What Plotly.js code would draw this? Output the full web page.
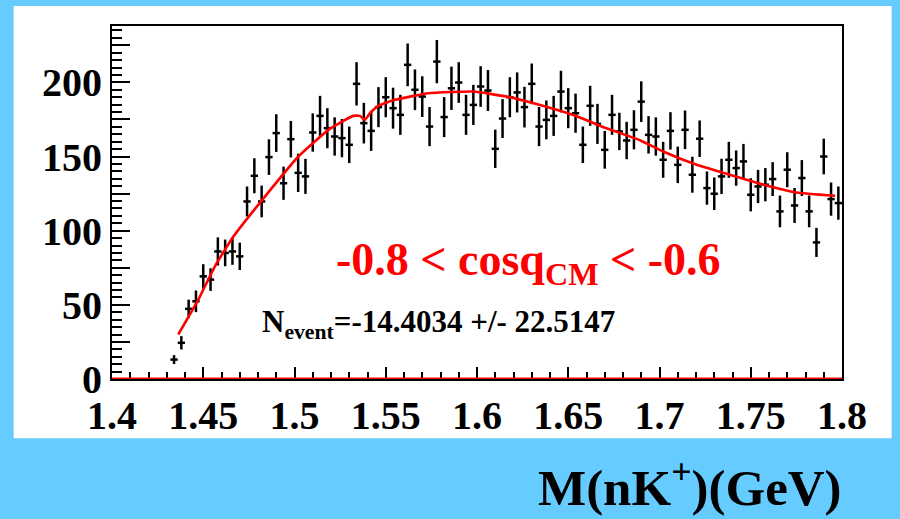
<!DOCTYPE html>
<html>
<head>
<meta charset="utf-8">
<script src="https://cdn.plot.ly/plotly-3.0.1.min.js"></script>
<style>html,body{margin:0;padding:0;background:#66ccff;}#chart{width:900px;height:519px;}</style>
</head>
<body>
<div id="chart"></div>
<script>
// Bin centres (GeV) of the data histogram
const massBins = [1.434,1.438,1.442,1.446,1.450,1.454,1.458,1.462,1.466,1.470,
  1.474,1.478,1.482,1.486,1.490,1.494,1.498,1.502,1.506,1.510,
  1.514,1.518,1.522,1.526,1.530,1.534,1.538,1.542,1.546,1.550,
  1.554,1.558,1.562,1.566,1.570,1.574,1.578,1.582,1.586,1.590,
  1.594,1.598,1.602,1.606,1.610,1.614,1.618,1.622,1.626,1.630,
  1.634,1.638,1.642,1.646,1.650,1.654,1.658,1.662,1.666,1.670,
  1.674,1.678,1.682,1.686,1.690,1.694,1.698,1.702,1.706,1.710,
  1.714,1.718,1.722,1.726,1.730,1.734,1.738,1.742,1.746,1.750,
  1.754,1.758,1.762,1.766,1.770,1.774,1.778,1.782,1.786,1.790,
  1.794,1.798];
// Event counts per bin
const counts = [13.1,24.4,47.3,52.4,69.2,67,86,85,86,82.7,
  119.7,137,119.7,149.6,165.8,132,161.7,139,136.6,166.2,
  177.4,169.1,163.5,162.4,157.9,199,172.5,167.3,183.3,190,
  182.6,178.1,211.8,195,190.4,170.2,214,176.6,196,199.9,
  178.1,184.8,197.2,194.5,155.2,175.6,190,193.2,183.3,199,
  170.2,174.7,177.4,193.8,182.6,179.2,157.9,184.2,172,154.5,
  178.1,166.9,160.8,168,187,164.6,163.5,147.8,167.3,144.4,
  168,137.7,162,128.7,124.9,136.6,147.8,142.2,146.7,124.2,
  129.8,131,134.8,113,141.1,117,135.5,113,92.1,150,
  121.3,118.6];
// Statistical errors per bin
const countErrors = [3,4.5,6.2,7.3,8.2,7.6,9.5,9,9,9.2,
  10.1,11.8,10.7,12,12.7,11.2,12.3,12.9,11.8,12.9,
  13.5,13.5,12.9,12.9,12.3,14.6,13.7,13.5,13.5,13.5,
  13.8,13.5,14.4,13.7,13.7,13.2,14.6,13.5,14.6,13.7,
  13.5,13.5,13.7,13.8,12.9,13.1,13.5,13.5,13.7,13.7,
  13.2,13.1,13.5,14,13.5,13.2,12.3,13.5,13.5,12.7,
  13.5,12.6,12.6,13.2,13.7,12.6,12.9,12.1,12.6,12.3,
  13,12.1,12.3,11.2,11,11.9,12.1,11.9,11.8,11.2,
  11.2,11.2,11.4,10.7,11.8,11.8,12.1,10.7,9.8,12,
  11.2,11.2];
const halfBinWidth = 0.002;
// Fit curve
const fitMass = [1.4363,1.4473,1.4564,1.4665,1.4838,1.5021,1.5186,1.5322,1.5359,1.5386,
  1.5414,1.5459,1.5551,1.5733,1.598,1.6163,1.6345,1.6528,1.671,1.6893,
  1.702,1.7204,1.7386,1.757,1.775,1.7962];
const fitValues = [30,53.5,76,96,123,150,168,177.4,177.4,174.7,
  179.3,184.2,188.2,192.7,193.8,190.4,184.8,178,169,161,
  153.4,144.4,137.7,131,125.8,123.6];
// Signal component (N_event ~ 0)
const signalMass = [1.4, 1.8];
const signalValues = [0, 0];
// Tick labels
const xTickVals = [1.4,1.45,1.5,1.55,1.6,1.65,1.7,1.75,1.8];
const xTickText = ['1.4','1.45','1.5','1.55','1.6','1.65','1.7','1.75','1.8'];
const yTickVals = [0,50,100,150,200];
const yTickText = ['0','50','100','150','200'];
const yMidTickVals = [25,75,125,175,225];
const cutLabel = '-0.8 < cosq<sub>CM</sub> < -0.6';
const nEventLabel = 'N<sub>event</sub>=-14.4034 +/- 22.5147';
const xTitle = 'M(nK<sup>+</sup>)(GeV)';

const serif = 'Liberation Serif, Times New Roman, serif';
const yRange = [0, 238];

const traces = [
  {x: signalMass, y: signalValues, mode: 'lines', line: {color: '#ff0000', width: 3}, cliponaxis: false, hoverinfo: 'skip'},
  {x: massBins, y: counts, mode: 'markers', marker: {size: 2, color: 'black'},
   error_y: {type: 'data', array: countErrors, visible: true, color: 'black', thickness: 2.5, width: 0},
   error_x: {type: 'constant', value: halfBinWidth, visible: true, color: 'black', thickness: 2.5, width: 0}},
  {x: fitMass, y: fitValues, mode: 'lines', line: {color: '#ff0000', width: 2.6, shape: 'spline', smoothing: 0.4}}
];

const layout = {
  width: 900, height: 519,
  margin: {l: 112, r: 58, t: 26, b: 140},
  paper_bgcolor: '#66ccff',
  plot_bgcolor: 'white',
  showlegend: false,
  font: {family: serif, color: 'black'},
  xaxis: {
    range: [1.4, 1.8], tickmode: 'array', tickvals: xTickVals, ticktext: xTickText,
    ticks: 'inside', ticklen: 12, tickwidth: 2, tickcolor: 'black',
    minor: {tickmode: 'linear', tick0: 1.4, dtick: 0.01, ticks: 'inside', ticklen: 7, tickwidth: 2, tickcolor: 'black'},
    showline: true, linecolor: 'black', linewidth: 2, mirror: true,
    showgrid: false, zeroline: false, layer: 'below traces',
    tickfont: {family: serif, size: 40, weight: 'bold', color: 'black'}
  },
  yaxis: {
    range: yRange, tickmode: 'array', tickvals: yTickVals, ticktext: yTickText,
    ticks: 'inside', ticklen: 18, tickwidth: 2, tickcolor: 'black',
    minor: {tickmode: 'linear', tick0: 0, dtick: 5, ticks: 'inside', ticklen: 10, tickwidth: 2, tickcolor: 'black'},
    showline: true, linecolor: 'black', linewidth: 2, mirror: true,
    showgrid: false, zeroline: false, layer: 'below traces',
    tickfont: {family: serif, size: 40, weight: 'bold', color: 'black'}
  },
  yaxis2: {
    range: yRange, overlaying: 'y', side: 'left', tickmode: 'array', tickvals: yMidTickVals,
    ticks: 'inside', ticklen: 18, tickwidth: 2, tickcolor: 'black',
    showticklabels: false, showline: false, showgrid: false, zeroline: false
  },
  shapes: [
    {type: 'rect', xref: 'paper', yref: 'paper', x0: -0.1347, x1: 1.068, y0: -0.168, y1: 1.0566,
     fillcolor: 'white', line: {width: 0}, layer: 'below'}
  ],
  annotations: [
    {text: cutLabel, xref: 'paper', yref: 'paper', x: 0.5712, y: 0.33, xanchor: 'center', yanchor: 'middle',
     showarrow: false, font: {family: serif, size: 46, weight: 'bold', color: '#ff0000'}},
    {text: nEventLabel, xref: 'paper', yref: 'paper', x: 0.4473, y: 0.155, xanchor: 'center', yanchor: 'middle',
     showarrow: false, font: {family: serif, size: 31, weight: 'bold', color: 'black'}},
    {text: xTitle, xref: 'paper', yref: 'paper', x: 0.7918, y: -0.297, xanchor: 'center', yanchor: 'middle',
     showarrow: false, font: {family: serif, size: 51, weight: 'bold', color: 'black'}}
  ]
};

Plotly.newPlot('chart', traces.concat([{x: [1.4], y: [0], yaxis: 'y2', mode: 'markers', marker: {opacity: 0}, hoverinfo: 'skip'}]), layout, {displayModeBar: false, staticPlot: true});
</script>
</body>
</html>
